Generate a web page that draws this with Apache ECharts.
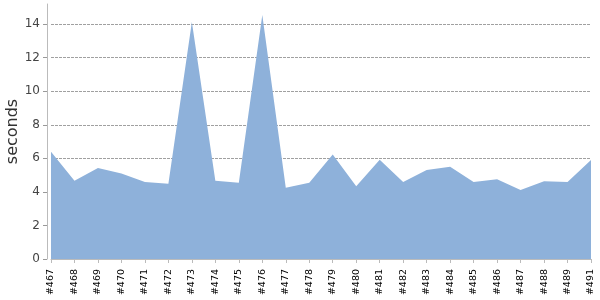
<!DOCTYPE html>
<html>
<head>
<meta charset="utf-8">
<script src="https://cdn.jsdelivr.net/npm/echarts@6/dist/echarts.min.js"></script>
<style>html,body{margin:0;padding:0;background:#fff}#c{width:600px;height:300px}</style>
</head>
<body>
<div id="c"></div>
<script>
var categories = ['#467','#468','#469','#470','#471','#472','#473','#474','#475','#476','#477','#478','#479','#480','#481','#482','#483','#484','#485','#486','#487','#488','#489','#491'];
var seconds = [6.4,4.66,5.42,5.1,4.59,4.49,14.13,4.66,4.55,14.54,4.25,4.55,6.23,4.33,5.92,4.59,5.3,5.5,4.59,4.76,4.11,4.64,4.59,5.9];
var yTicks = [0,2,4,6,8,10,12,14];

var chart = echarts.init(document.getElementById('c'), null, {renderer:'canvas'});
chart.setOption({
  animation: false,
  grid: {left: 51, right: 9, top: 4, bottom: 41, containLabel: false, outerBoundsMode: 'none'},
  xAxis: {
    type: 'category',
    data: categories,
    boundaryGap: false,
    offset: 4,
    axisLine: {lineStyle: {color: '#bbbbbb', width: 1}},
    axisTick: {alignWithLabel: true, length: 4, lineStyle: {color: '#bbbbbb'}},
    axisLabel: {rotate: 90, interval: 0, margin: 6, fontFamily: 'DejaVu Sans', fontSize: 9.5, color: '#000'},
    splitLine: {show: false}
  },
  yAxis: {
    type: 'value',
    min: 0,
    max: 15.2,
    interval: 2,
    offset: 4,
    name: 'seconds',
    nameLocation: 'middle',
    nameGap: 26,
    nameMoveOverlap: false,
    nameTextStyle: {fontFamily: 'DejaVu Sans', fontSize: 16, color: '#333'},
    axisLine: {show: true, lineStyle: {color: '#bbbbbb', width: 1}},
    axisTick: {show: true, length: 4, lineStyle: {color: '#999999'}},
    axisLabel: {showMaxLabel: false, margin: 7, fontFamily: 'DejaVu Sans', fontSize: 12, color: '#444',
      formatter: function (v) { return yTicks.indexOf(v) >= 0 ? String(v) : ''; }},
    splitLine: {show: true, showMinLine: false, showMaxLine: false, lineStyle: {color: '#a0a0a0', type: [3, 1], width: 1}}
  },
  series: [{
    type: 'line',
    data: seconds,
    symbol: 'none',
    lineStyle: {width: 0},
    areaStyle: {color: '#8eb1da', opacity: 1},
    z: 1
  }]
});
</script>
</body>
</html>
